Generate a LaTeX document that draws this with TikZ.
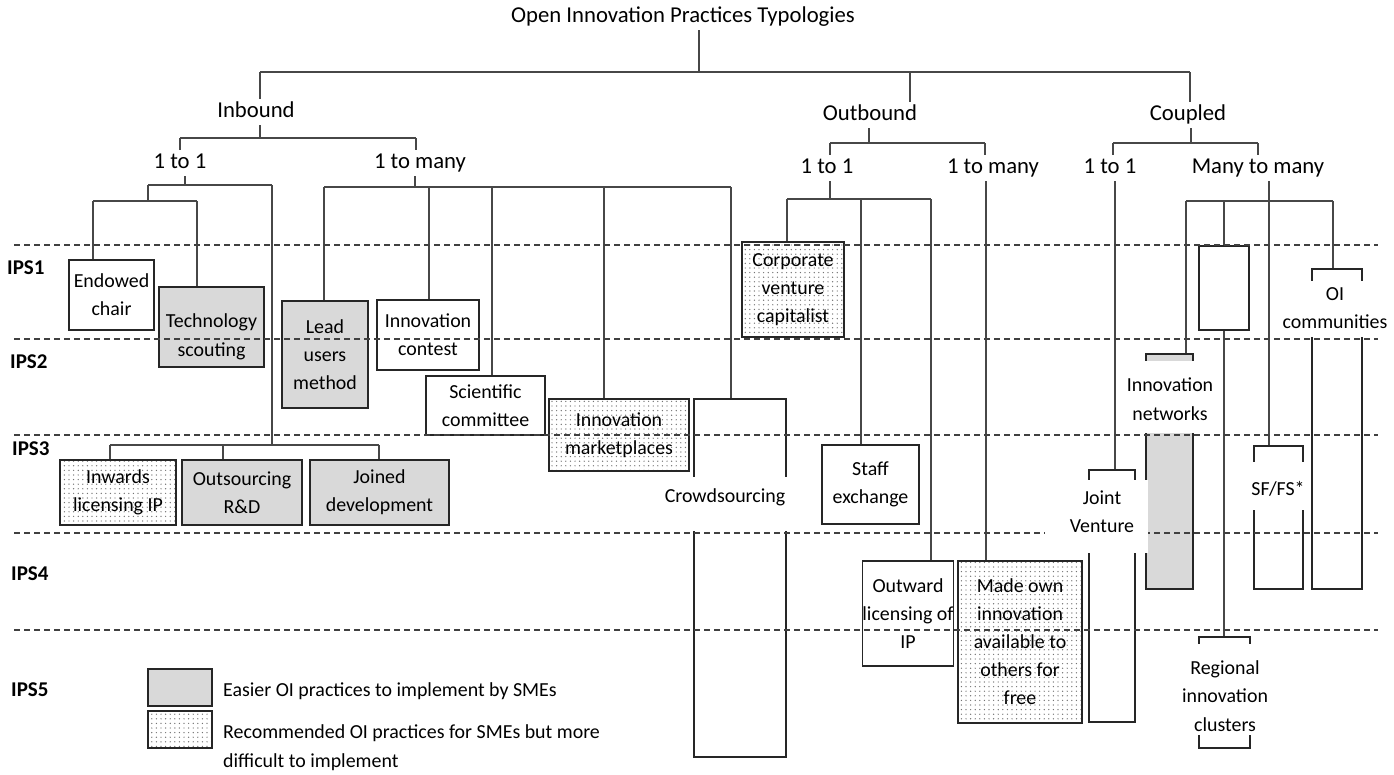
\documentclass[tikz,border=0pt]{standalone}
\usepackage{fontspec}
\setmainfont{Carlito}
\usetikzlibrary{patterns.meta}
\begin{document}
\begin{tikzpicture}[x=1pt,y=-1pt,
  wire/.style={draw=black!72,line width=1.6pt},
  frame/.style={draw=black!85,line width=1.5pt,inner sep=0pt,
    font=\fontsize{19.9}{28}\selectfont,align=center,text=black},
  easy/.style={frame,fill=gray!30},
  hard/.style={frame,pattern={Dots[distance=4.6pt,radius=0.7pt]},pattern color=black!55},
  plain/.style={frame,fill=white},
  cover/.style={fill=white,inner sep=0pt},
  btxt/.style={font=\fontsize{19.9}{28.5}\selectfont,align=center,inner sep=0pt,text=black},
  ltxt/.style={font=\fontsize{22.7}{27}\selectfont,inner xsep=2pt,inner ysep=2.5pt,
    text height=16pt,text depth=5pt,text=black},
  ipsl/.style={font=\bfseries\fontsize{21}{24}\selectfont,anchor=west,inner sep=0pt,text=black},
  level/.style={draw=black!75,line width=1.3pt,dash pattern=on 6pt off 4pt},
]
\useasboundingbox (0,0) rectangle (1394,774);

% ---------- headings ----------
\node[ltxt] (T) at (683,17) {Open Innovation Practices Typologies};
\node[ltxt] (inb) at (256,112) {Inbound};
\node[ltxt] (outb) at (870,115) {Outbound};
\node[ltxt] (cpl) at (1188,115) {Coupled};
\node[ltxt] (i11) at (180,163) {1 to 1};
\node[ltxt] (i1m) at (420,163) {1 to many};
\node[ltxt] (o11) at (827,168) {1 to 1};
\node[ltxt] (o1m) at (993,168) {1 to many};
\node[ltxt] (c11) at (1110,168) {1 to 1};
\node[ltxt] (cmm) at (1258,168) {Many to many};

% ---------- practice boxes ----------
\node[plain,minimum width=85,minimum height=70] (ec) at (111.5,295) {Endowed\\chair};
\node[easy,minimum width=105,minimum height=80] (ts) at (211.5,327) {};
\node[btxt] (tst) at (211.5,337) {Technology\\scouting};
\node[easy,minimum width=86,minimum height=107] (lum) at (325,354.5) {Lead\\users\\method};
\node[plain,minimum width=102,minimum height=70] (ic) at (428,335) {Innovation\\contest};
\node[plain,minimum width=119,minimum height=59] (sc) at (485.5,405.5) {Scientific\\committee};
\node[hard,minimum width=140,minimum height=72] (im) at (619,435) {Innovation\\marketplaces};
\node[plain,minimum width=92,minimum height=358] (cs) at (740,578) {};
\node[hard,minimum width=116,minimum height=65] (ilp) at (118,492.5) {Inwards\\licensing IP};
\node[easy,minimum width=120,minimum height=65] (ord) at (242,492.5) {Outsourcing\\R\&D};
\node[easy,minimum width=139,minimum height=65] (jd) at (379.5,492.5) {Joined\\development};
\node[hard,minimum width=102,minimum height=95] (cvc) at (793,289.5) {Corporate\\venture\\capitalist};
\node[plain,minimum width=97,minimum height=79] (se) at (870.5,484.5) {Staff\\exchange};
\node[plain,minimum width=90,minimum height=105] (ol) at (908,613.5) {Outward\\licensing of\\IP};
\node[hard,minimum width=124,minimum height=162] (mo) at (1020,642) {Made own\\innovation\\available to\\others for\\free};
\node[plain,minimum width=46,minimum height=252] (jv) at (1112,596) {};
\node[easy,minimum width=47,minimum height=235] (inw) at (1169.5,471.5) {};
\node[plain,minimum width=50,minimum height=84] (eb) at (1224,288) {};
\node[plain,minimum width=49,minimum height=143] (sf) at (1278.5,517.5) {};
\node[plain,minimum width=50,minimum height=320] (oi) at (1337,429) {};
\node[plain,minimum width=51,minimum height=111] (ric) at (1224.5,692.5) {};

% ---------- junction points ----------
\coordinate (b0L) at (260,72);   \coordinate (b0M) at (910,72);
\coordinate (b0R) at (1190,72);  \coordinate (b0T) at (699,72);
\coordinate (b1L) at (180,138);  \coordinate (b1R) at (416,138);
\coordinate (b2M) at (869,143);  \coordinate (b2L) at (830,143);  \coordinate (b2R) at (985,143);
\coordinate (b3M) at (1191,143); \coordinate (b3L) at (1113,143); \coordinate (b3R) at (1258,143);
\coordinate (a1) at (185,185);   \coordinate (a1L) at (148,185);  \coordinate (a1R) at (272,185);
\coordinate (a2L) at (93,201);   \coordinate (a2R) at (197,201);
\coordinate (a3L) at (110,445);  \coordinate (a3M) at (223,445);  \coordinate (a3R) at (379,445);
\coordinate (m1) at (415,187);   \coordinate (m1a) at (324,187);  \coordinate (m1b) at (429,187);
\coordinate (m1c) at (492,187);  \coordinate (m1d) at (604,187);  \coordinate (m1e) at (731,187);
\coordinate (o1) at (830,199);   \coordinate (o1a) at (787,199);  \coordinate (o1b) at (861,199);
\coordinate (o1c) at (931,199);  \coordinate (om) at (986,186);
\coordinate (cj) at (1115,186);
\coordinate (mm) at (1269,201);  \coordinate (mma) at (1186,201);
\coordinate (mmb) at (1224,201); \coordinate (mmc) at (1333,201);

% ---------- connectors ----------
% top level
\draw[wire] (T.south -| b0T) -- (b0T);
\draw[wire] (b0L) -- (b0R);
\draw[wire] (b0L) -- (inb.north -| b0L);
\draw[wire] (b0M) -- (outb.north -| b0M);
\draw[wire] (b0R) -- (cpl.north -| b0R);
% inbound
\draw[wire] (inb.south -| b0L) -- (b0L |- b1L);
\draw[wire] (b1L) -- (b1R);
\draw[wire] (b1L) -- (i11.north -| b1L);
\draw[wire] (b1R) -- (i1m.north -| b1R);
% outbound
\draw[wire] (outb.south -| b2M) -- (b2M);
\draw[wire] (b2L) -- (b2R);
\draw[wire] (b2L) -- (o11.north -| b2L);
\draw[wire] (b2R) -- (o1m.north -| b2R);
% coupled
\draw[wire] (cpl.south -| b3M) -- (b3M);
\draw[wire] (b3L) -- (b3R);
\draw[wire] (b3L) -- (c11.north -| b3L);
\draw[wire] (b3R) -- (cmm.north -| b3R);
% inbound, 1 to 1
\draw[wire] (i11.south -| a1) -- (a1);
\draw[wire] (a1L) -- (a1R);
\draw[wire] (a1L) -- (a1L |- a2L);
\draw[wire] (a2L) -- (a2R);
\draw[wire] (a2L) -- (ec.north -| a2L);
\draw[wire] (a2R) -- (ts.north -| a2R);
\draw[wire] (a1R) -- (a1R |- a3R);
\draw[wire] (a3L) -- (a3R);
\draw[wire] (a3L) -- (ilp.north -| a3L);
\draw[wire] (a3M) -- (ord.north -| a3M);
\draw[wire] (a3R) -- (jd.north -| a3R);
% inbound, 1 to many
\draw[wire] (i1m.south -| m1) -- (m1);
\draw[wire] (m1a) -- (m1e);
\draw[wire] (m1a) -- (lum.north -| m1a);
\draw[wire] (m1b) -- (ic.north -| m1b);
\draw[wire] (m1c) -- (sc.north -| m1c);
\draw[wire] (m1d) -- (im.north -| m1d);
\draw[wire] (m1e) -- (cs.north -| m1e);
% outbound, 1 to 1 and 1 to many
\draw[wire] (o11.south -| o1) -- (o1);
\draw[wire] (o1a) -- (o1c);
\draw[wire] (o1a) -- (cvc.north -| o1a);
\draw[wire] (o1b) -- (se.north -| o1b);
\draw[wire] (o1c) -- (ol.north -| o1c);
\draw[wire] (o1m.south -| om) -- (mo.north -| om);
% coupled, 1 to 1 and many to many
\draw[wire] (c11.south -| cj) -- (jv.north -| cj);
\draw[wire] (cmm.south -| mm) -- (sf.north -| mm);
\draw[wire] (mma) -- (mmc);
\draw[wire] (mma) -- (inw.north -| mma);
\draw[wire] (mmb) -- (eb.north -| mmb);
\draw[wire] (mmc) -- (oi.north -| mmc);
\draw[wire] (eb.south -| mmb) -- (ric.north -| mmb);

% ---------- stage separators ----------
\foreach \yy in {245,339,435,533,630}
  \draw[level] (14,\yy) -- (1378,\yy);

% ---------- labels of the tall boxes ----------
\node[cover,minimum width=104,minimum height=54] (csc) at (740,504) {};
\node[btxt] (cst) at (725,497) {Crowdsourcing};
\node[cover,minimum width=103,minimum height=73] (jvc) at (1096.5,516.5) {};
\node[btxt] (jvt) at (1102,511.5) {Joint\\Venture};
\node[cover,minimum width=90,minimum height=72] (inwc) at (1170,397) {};
\node[btxt] (inwt) at (1170,399) {Innovation\\networks};
\node[cover,minimum width=60,minimum height=48] (sfc) at (1278.5,486) {};
\node[btxt] (sft) at (1278,489) {SF/FS*};
\node[cover,minimum width=108,minimum height=56] (oic) at (1336,309) {};
\node[btxt] (oit) at (1335,308) {OI\\communities};
\node[cover,minimum width=90,minimum height=91] (ricc) at (1225,689.5) {};
\node[btxt] (rict) at (1225,696) {Regional\\innovation\\clusters};

% ---------- stage labels ----------
\node[ipsl] (ips1) at (7,268) {IPS1};
\node[ipsl] (ips2) at (10,362) {IPS2};
\node[ipsl] (ips3) at (12,449) {IPS3};
\node[ipsl] (ips4) at (11,574) {IPS4};
\node[ipsl] (ips5) at (11,690) {IPS5};

% ---------- legend ----------
\node[easy,minimum width=64,minimum height=37] (lg1) at (180,687.5) {};
\node[hard,minimum width=64,minimum height=37] (lg2) at (180,729.5) {};
\node[btxt,anchor=west] (lg1t) at (223,691) {Easier OI practices to implement by SMEs};
\node[btxt,anchor=west,align=left] (lg2t) at (223,747.5) {Recommended OI practices for SMEs but more\\difficult to implement};
\end{tikzpicture}
\end{document}
